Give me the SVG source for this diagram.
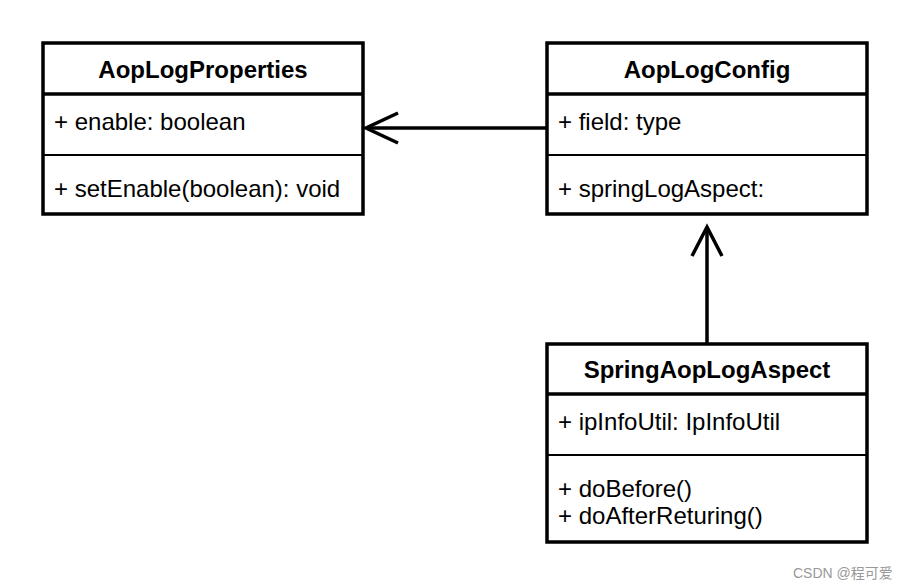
<svg xmlns="http://www.w3.org/2000/svg" width="908" height="588" viewBox="0 0 908 588">
<style>
.box{fill:#fff;stroke:#000;stroke-width:3.5}
.hdr{stroke:#000;stroke-width:3.5}
.sep{stroke:#000;stroke-width:2}
.t{font-family:"Liberation Sans",Arial,sans-serif;font-size:24px;font-weight:bold;fill:#000;text-anchor:middle}
.m{font-family:"Liberation Sans",Arial,sans-serif;font-size:24px;fill:#000}
.c{fill:none;stroke:#000;stroke-width:3.5}
.wm{font-family:"Liberation Sans","Noto Sans CJK SC",sans-serif;font-size:14px;fill:#999}
</style>
<rect width="908" height="588" fill="#fff"/>
<g id="connectors">
<path class="c" d="M547 128H366"/>
<path class="c" d="M398 113L366 128L398 143"/>
<path class="c" d="M707 344V227"/>
<path class="c" d="M692 256L707 227L722 256"/>
</g>
<g id="AopLogProperties">
<rect class="box" x="43" y="43" width="320" height="171"/>
<line class="hdr" x1="43" y1="94" x2="363" y2="94"/>
<line class="sep" x1="43" y1="155" x2="363" y2="155"/>
<text class="t" x="203" y="78">AopLogProperties</text>
<text class="m" x="54" y="130">+ enable: boolean</text>
<text class="m" x="54" y="197">+ setEnable(boolean): void</text>
</g>
<g id="AopLogConfig">
<rect class="box" x="547" y="43" width="320" height="171"/>
<line class="hdr" x1="547" y1="94" x2="867" y2="94"/>
<line class="sep" x1="547" y1="155" x2="867" y2="155"/>
<text class="t" x="707" y="78">AopLogConfig</text>
<text class="m" x="558" y="130">+ field: type</text>
<text class="m" x="558" y="197">+ springLogAspect:</text>
</g>
<g id="SpringAopLogAspect">
<rect class="box" x="547" y="344" width="320" height="198"/>
<line class="hdr" x1="547" y1="394" x2="867" y2="394"/>
<line class="sep" x1="547" y1="455" x2="867" y2="455"/>
<text class="t" x="707" y="378">SpringAopLogAspect</text>
<text class="m" x="558" y="430">+ ipInfoUtil: IpInfoUtil</text>
<text class="m" x="558" y="497">+ doBefore()</text>
<text class="m" x="558" y="524">+ doAfterReturing()</text>
</g>
<text class="wm" x="793" y="578">CSDN @程可爱</text>
</svg>
